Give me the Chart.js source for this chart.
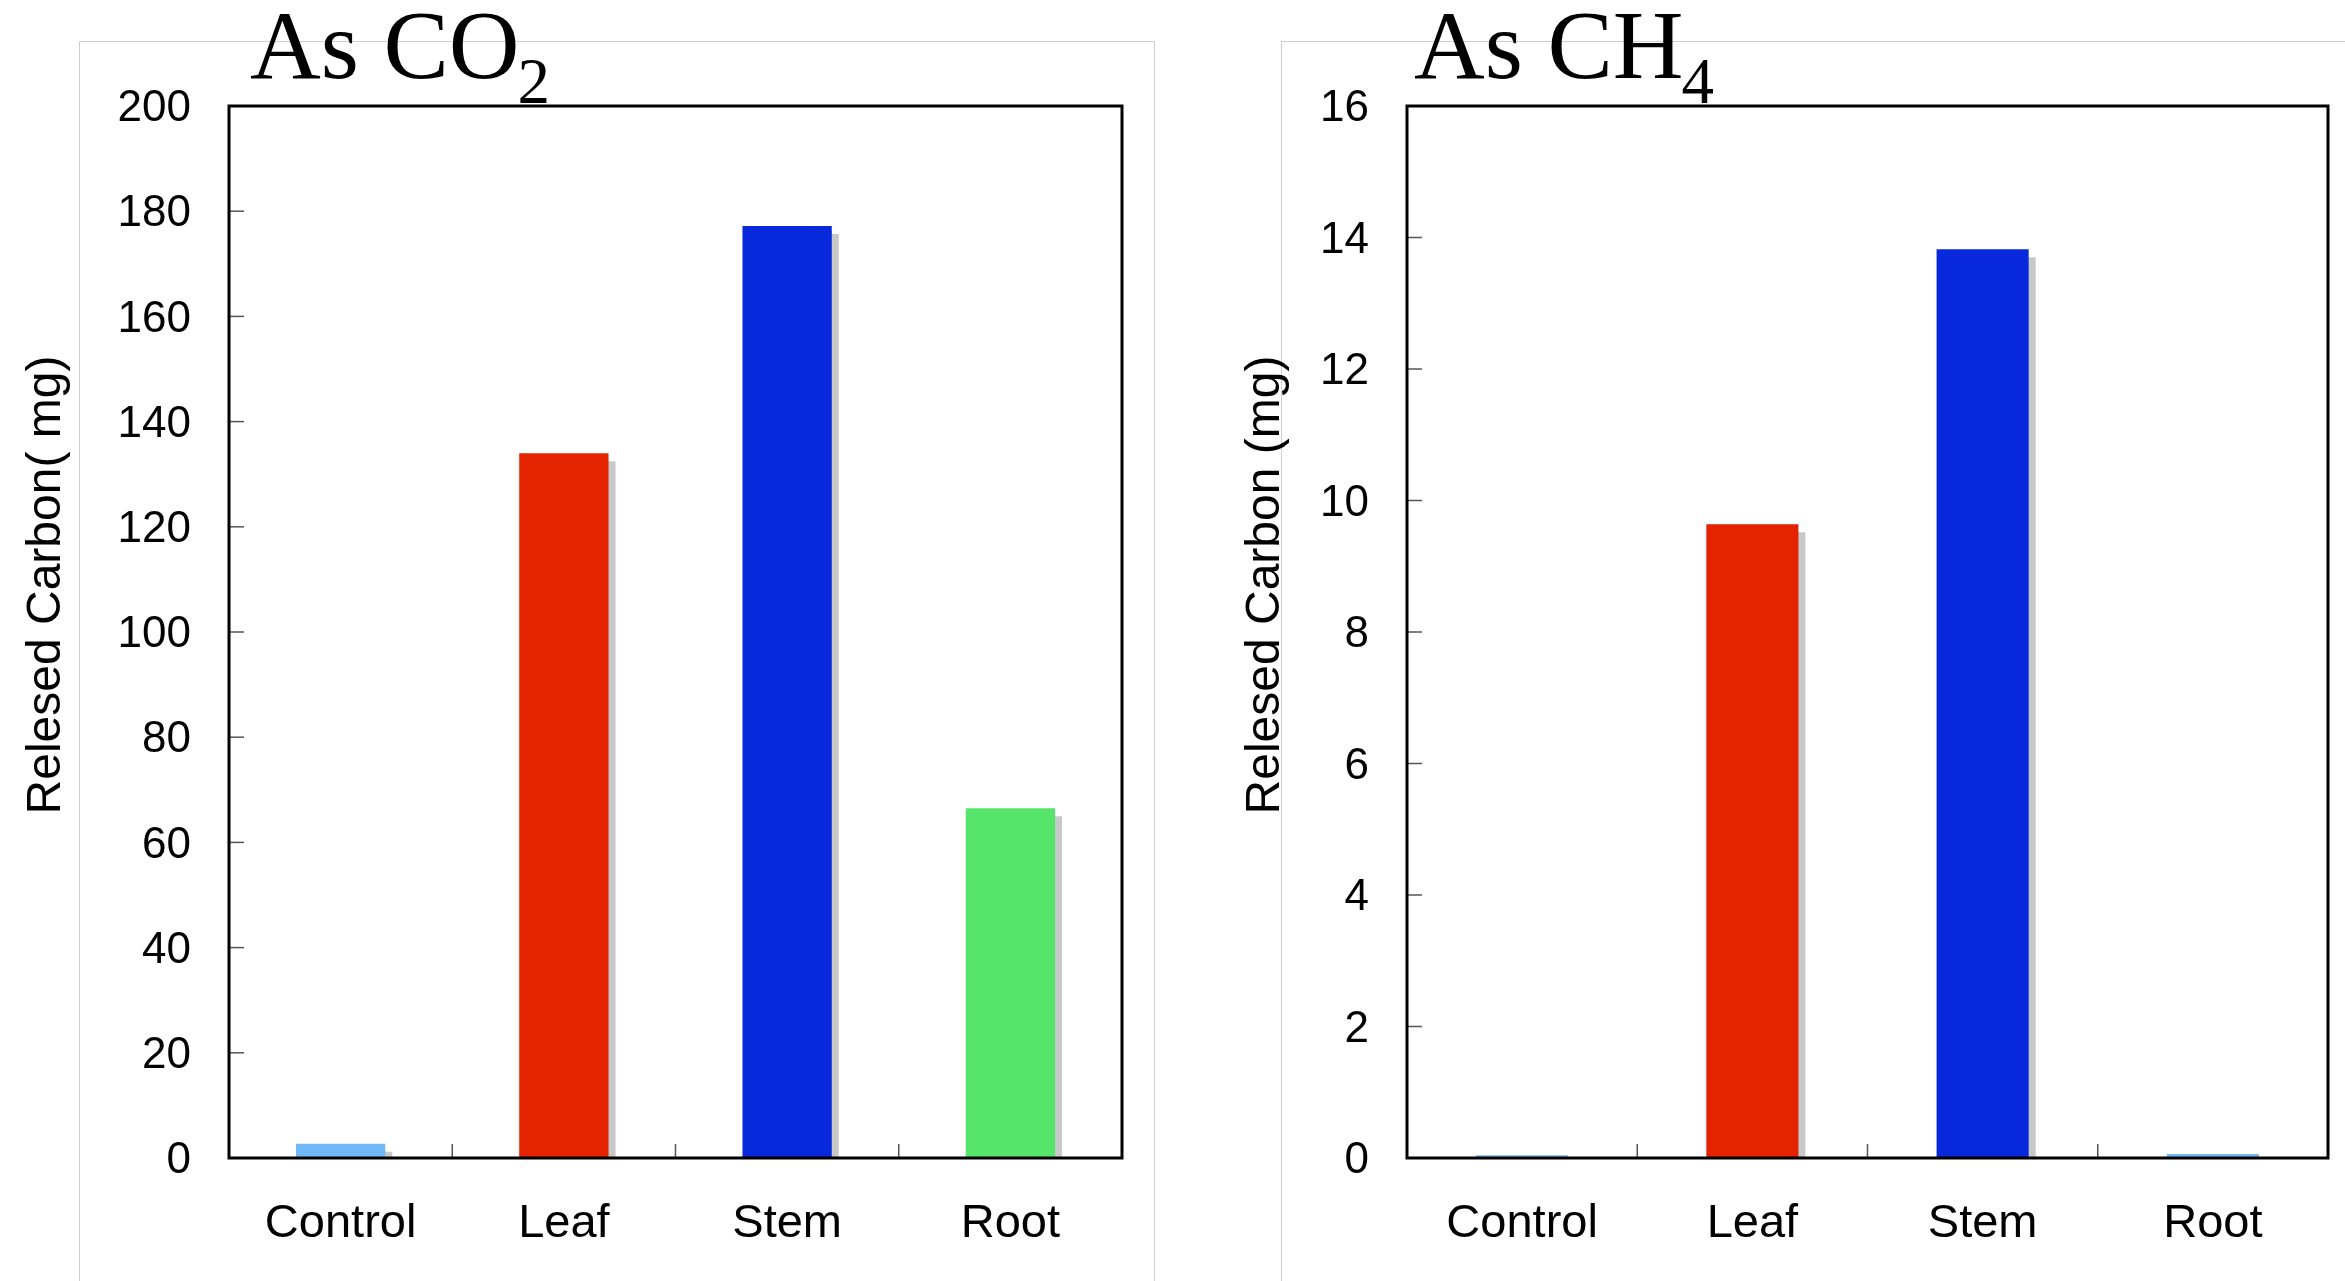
<!DOCTYPE html>
<html>
<head>
<meta charset="utf-8">
<script src="https://cdn.jsdelivr.net/npm/chart.js@4.4.1/dist/chart.umd.min.js"></script>
<style>
html,body{margin:0;padding:0;background:#fff;width:2345px;height:1281px;overflow:hidden}
.frame{position:absolute;border:1px solid #cfcfcf;box-sizing:border-box}
canvas{position:absolute;top:0}
</style>
</head>
<body>
<div class="frame" style="left:79px;top:41px;width:1076px;height:1300px"></div>
<div class="frame" style="left:1281px;top:41px;width:1100px;height:1300px"></div>
<canvas id="c1" width="1170" height="1281" style="left:0"></canvas>
<canvas id="c2" width="1170" height="1281" style="left:1175px"></canvas>
<script>
// ---------- data ----------
const categories = ['Control', 'Leaf', 'Stem', 'Root'];
const co2Values = [2.7, 134.0, 177.2, 66.5];
const ch4Values = [0.04, 9.64, 13.82, 0.06];
const co2TickValues = [0, 20, 40, 60, 80, 100, 120, 140, 160, 180, 200];
const ch4TickValues = [0, 2, 4, 6, 8, 10, 12, 14, 16];
const co2Colors = ['#70b8f8', '#e42300', '#0828dc', '#56e46a'];
const ch4Colors = ['#70b8f8', '#e42300', '#0828dc', '#70b8f8'];
const co2Title = { main: 'As CO', sub: '2' };
const ch4Title = { main: 'As CH', sub: '4' };
const co2YTitle = 'Relesed Carbon( mg)';
const ch4YTitle = 'Relesed Carbon (mg)';

Chart.defaults.font.family = '"Liberation Sans", Arial, sans-serif';
Chart.defaults.color = '#000';

function decor(opts) {
  return {
    id: 'decor',
    beforeDatasetsDraw(chart) {
      const ctx = chart.ctx;
      ctx.save();
      ctx.shadowColor = '#c8c8c8';
      ctx.shadowOffsetX = 7;
      ctx.shadowOffsetY = 8;
      ctx.shadowBlur = 0;
    },
    afterDatasetsDraw(chart) {
      const ctx = chart.ctx;
      ctx.restore();
      const a = chart.chartArea;
      const xs = chart.scales.x, ys = chart.scales.y;
      ctx.save();
      ctx.strokeStyle = '#555';
      ctx.lineWidth = 1.5;
      ys.ticks.forEach((t, i) => {
        const py = ys.getPixelForTick(i);
        ctx.beginPath(); ctx.moveTo(a.left, py); ctx.lineTo(a.left + 15, py); ctx.stroke();
      });
      for (let i = 0; i < categories.length - 1; i++) {
        const px = (xs.getPixelForValue(i) + xs.getPixelForValue(i + 1)) / 2;
        ctx.beginPath(); ctx.moveTo(px, a.bottom); ctx.lineTo(px, a.bottom - 14); ctx.stroke();
      }
      ctx.strokeStyle = '#000';
      ctx.lineWidth = 3;
      ctx.strokeRect(a.left, a.top, a.right - a.left, a.bottom - a.top);
      ctx.restore();
    },
    afterDraw(chart) {
      const ctx = chart.ctx;
      const a = chart.chartArea;
      ctx.save();
      ctx.fillStyle = '#000';
      ctx.textBaseline = 'alphabetic';
      ctx.textAlign = 'left';
      ctx.font = '98px "Liberation Serif", "Times New Roman", serif';
      ctx.fillText(opts.title.main, opts.titleX, 78);
      const w = ctx.measureText(opts.title.main).width;
      ctx.font = '65px "Liberation Serif", "Times New Roman", serif';
      ctx.fillText(opts.title.sub, opts.titleX + w - 2, 103);
      ctx.translate(opts.yTitleX, (a.top + a.bottom) / 2 - 47);
      ctx.rotate(-Math.PI / 2);
      ctx.textAlign = 'center';
      ctx.font = '48px "Liberation Sans", Arial, sans-serif';
      ctx.fillText(opts.yTitle, 0, 0);
      ctx.restore();
    }
  };
}

function makeChart(id, values, colors, tickValues, yMax, yWidth, padRight, title, titleX, yTitle, yTitleX) {
  return new Chart(document.getElementById(id), {
    type: 'bar',
    data: {
      labels: categories,
      datasets: [{
        data: values,
        backgroundColor: colors,
        borderWidth: 0,
        categoryPercentage: 1,
        barPercentage: 0.4,
        clip: 0
      }]
    },
    options: {
      responsive: false,
      animation: false,
      devicePixelRatio: 1,
      layout: { padding: { top: 106, right: padRight, bottom: 0, left: 0 } },
      plugins: { legend: { display: false }, tooltip: { enabled: false }, title: { display: false } },
      scales: {
        x: {
          type: 'category',
          offset: true,
          grid: { display: false, drawTicks: false },
          border: { display: false },
          ticks: { padding: 38, font: { size: 47 }, color: '#000', maxRotation: 0 },
          afterFit(s) { s.height = 123; }
        },
        y: {
          min: 0,
          max: yMax,
          grid: { display: false, drawTicks: false },
          border: { display: false },
          ticks: { padding: 38, labelOffset: 3, font: { size: 44 }, color: '#000' },
          afterBuildTicks(s) { s.ticks = tickValues.map(v => ({ value: v })); },
          afterFit(s) { s.width = yWidth; }
        }
      }
    },
    plugins: [decor({ title: title, titleX: titleX, yTitle: yTitle, yTitleX: yTitleX })]
  });
}

makeChart('c1', co2Values, co2Colors, co2TickValues, 200, 229, 48, co2Title, 250, co2YTitle, 60);
makeChart('c2', ch4Values, ch4Colors, ch4TickValues, 16, 232, 17, ch4Title, 239, ch4YTitle, 104);
</script>
</body>
</html>
